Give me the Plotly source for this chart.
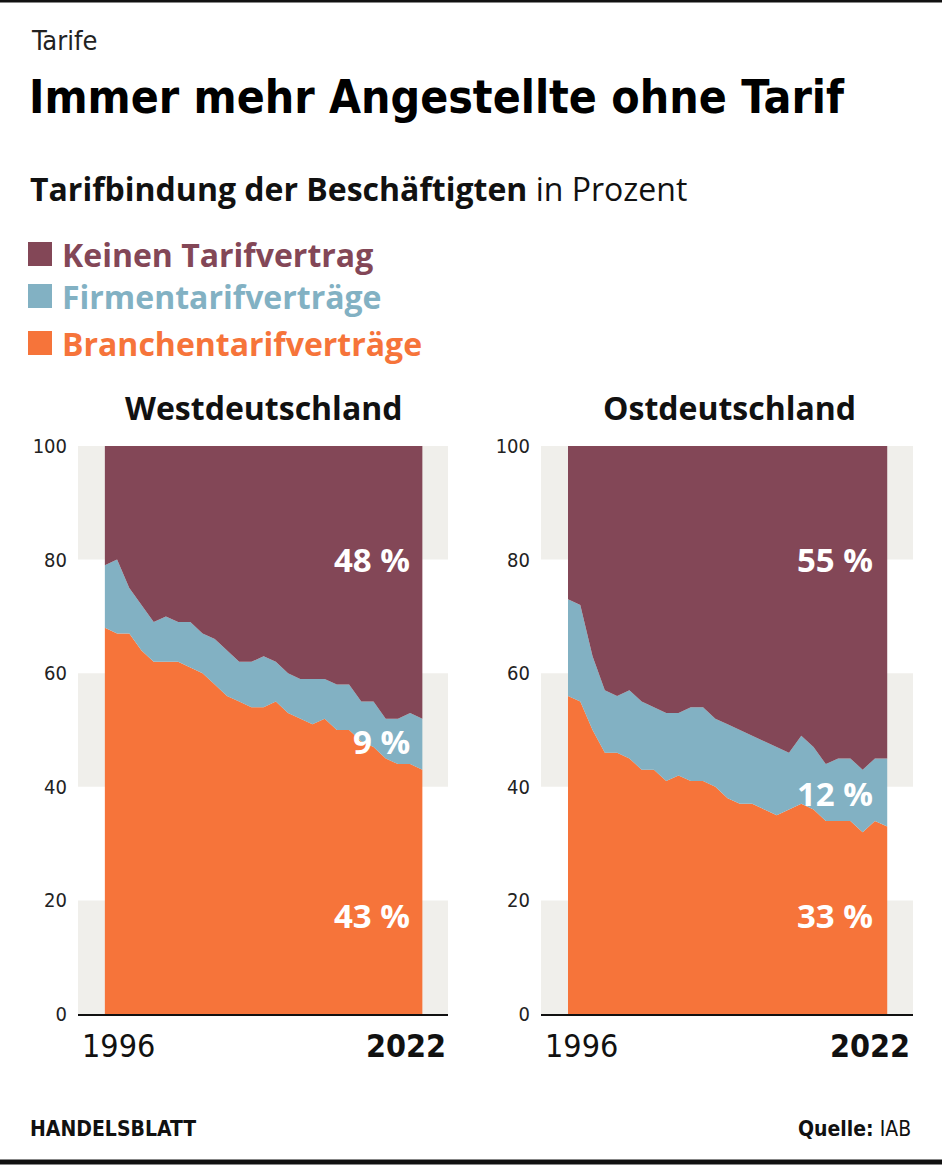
import plotly.graph_objects as go

W, H = 942, 1165

years = list(range(1996, 2023))

# Westdeutschland (Prozent)
west_branchen = [68, 67, 67, 64, 62, 62, 62, 61, 60, 58, 56, 55, 54, 54, 55, 53, 52, 51, 52, 50, 50, 48, 47, 45, 44, 44, 43]
west_firmen   = [11, 13, 8, 8, 7, 8, 7, 8, 7, 8, 8, 7, 8, 9, 7, 7, 7, 8, 7, 8, 8, 7, 8, 7, 8, 9, 9]
west_keine    = [21, 20, 25, 28, 31, 30, 31, 31, 33, 34, 36, 38, 38, 37, 38, 40, 41, 41, 41, 42, 42, 45, 45, 48, 48, 47, 48]

# Ostdeutschland (Prozent)
ost_branchen = [56, 55, 50, 46, 46, 45, 43, 43, 41, 42, 41, 41, 40, 38, 37, 37, 36, 35, 36, 37, 36, 34, 34, 34, 32, 34, 33]
ost_firmen   = [17, 17, 13, 11, 10, 12, 12, 11, 12, 11, 13, 13, 12, 13, 13, 12, 12, 12, 10, 12, 11, 10, 11, 11, 11, 11, 12]
ost_keine    = [27, 28, 37, 43, 44, 43, 45, 46, 47, 47, 46, 46, 48, 49, 50, 51, 52, 53, 54, 51, 53, 56, 55, 55, 57, 55, 55]

series_names = ["Branchentarifverträge", "Firmentarifverträge", "Keinen Tarifvertrag"]
colors = ["#f6743a", "#82b1c3", "#834757"]
end_labels_west = ["43 %", "9 %", "48 %"]
end_labels_ost = ["33 %", "12 %", "55 %"]
label_y_west = [17.4, 48, 80]
label_y_ost = [17.4, 38.9, 80]
y_ticks = [0, 20, 40, 60, 80, 100]
band_ranges = [(0, 20), (40, 60), (80, 100)]

BAND = "#f0efeb"
NARROW = "DejaVu Sans Condensed, Liberation Sans Narrow, sans-serif"
SANS = "Open Sans, Roboto, Arial, sans-serif"

def px_x(x):
    return x / W

def px_y(y):
    return 1 - y / H

fig = go.Figure()

panels = [
    ("x", "y", [west_branchen, west_firmen, west_keine], end_labels_west, label_y_west, -10),
    ("x2", "y2", [ost_branchen, ost_firmen, ost_keine], end_labels_ost, label_y_ost, -12),
]

for xa, ya, vals, labels, ly, xs in panels:
    for name, v, c in zip(series_names, vals, colors):
        fig.add_trace(go.Scatter(
            x=years, y=v, name=name, mode="lines",
            stackgroup="s" + xa, line=dict(width=0, color=c),
            fillcolor=c, xaxis=xa, yaxis=ya, hoverinfo="skip", showlegend=False,
        ))

shapes = []
annotations = []

ydom = [px_y(1014), px_y(446)]
xdom_w = [px_x(78), px_x(448)]
xdom_o = [px_x(541), px_x(913)]
xrange = [1993.8, 2024.1]

axis_common = dict(range=xrange, showgrid=False, zeroline=False, showticklabels=False, automargin=False,
                   ticks="", showline=True, linecolor="#111111", linewidth=1.5, fixedrange=True)
yaxis_common = dict(range=[0, 100], tickvals=y_ticks, showgrid=False, zeroline=False, automargin=False,
                    ticks="", showline=False, ticklabelstandoff=10,
                    tickfont=dict(family=NARROW, size=20, color="#222222"), fixedrange=True)

fig.update_layout(
    xaxis=dict(domain=xdom_w, anchor="y", **axis_common),
    yaxis=dict(domain=ydom, anchor="x", **yaxis_common),
    xaxis2=dict(domain=xdom_o, anchor="y2", **axis_common),
    yaxis2=dict(domain=ydom, anchor="x2", **yaxis_common),
)

for xa, ya in [("x", "y"), ("x2", "y2")]:
    for y0, y1 in band_ranges:
        shapes.append(dict(type="rect", xref=xa + " domain", yref=ya, x0=0, x1=1, y0=y0, y1=y1,
                           fillcolor=BAND, line=dict(width=0), layer="below"))

for xa, ya, vals, labels, ly, xs in panels:
    for lab, yv in zip(labels, ly):
        annotations.append(dict(xref=xa, yref=ya, x=years[-1], y=yv, text="<b>%s</b>" % lab, showarrow=False,
                                xanchor="right", yanchor="middle", xshift=xs,
                                font=dict(family=SANS, size=33, color="white")))

# year labels
for xl, xr in [(80, 448), (543, 912)]:
    annotations.append(dict(xref="paper", yref="paper", x=px_x(xl), y=px_y(1046), text=str(years[0]),
                            showarrow=False, xanchor="left", yanchor="middle",
                            font=dict(family=NARROW, size=32, color="#111111")))
    annotations.append(dict(xref="paper", yref="paper", x=px_x(xr), y=px_y(1046), text="<b>%d</b>" % years[-1],
                            showarrow=False, xanchor="right", yanchor="middle",
                            font=dict(family=NARROW, size=32, color="#111111")))

# panel titles
for t, cx in [("Westdeutschland", 263), ("Ostdeutschland", 729)]:
    annotations.append(dict(xref="paper", yref="paper", x=px_x(cx), y=px_y(407), text="<b>%s</b>" % t,
                            showarrow=False, xanchor="center", yanchor="middle",
                            font=dict(family=SANS, size=32, color="#111111")))

# header texts
annotations.append(dict(xref="paper", yref="paper", x=px_x(29), y=px_y(40), text="Tarife",
                        showarrow=False, xanchor="left", yanchor="middle",
                        font=dict(family=NARROW, size=27, color="#222222")))
annotations.append(dict(xref="paper", yref="paper", x=px_x(27), y=px_y(97), text="<b>Immer mehr Angestellte ohne Tarif</b>",
                        showarrow=False, xanchor="left", yanchor="middle",
                        font=dict(family=NARROW, size=46, color="#000000")))
annotations.append(dict(xref="paper", yref="paper", x=px_x(28), y=px_y(188),
                        text="<b>Tarifbindung der Beschäftigten</b> in Prozent",
                        showarrow=False, xanchor="left", yanchor="middle",
                        font=dict(family=SANS, size=32, color="#111111")))

# legend
leg_rows = [("Keinen Tarifvertrag", colors[2], 254), ("Firmentarifverträge", colors[1], 296), ("Branchentarifverträge", colors[0], 343)]
for name, c, yc in leg_rows:
    shapes.append(dict(type="rect", xref="paper", yref="paper", x0=px_x(28), x1=px_x(52),
                       y0=px_y(yc + 12), y1=px_y(yc - 12), fillcolor=c, line=dict(width=0)))
    annotations.append(dict(xref="paper", yref="paper", x=px_x(60), y=px_y(yc), text="<b>%s</b>" % name,
                            showarrow=False, xanchor="left", yanchor="middle",
                            font=dict(family=SANS, size=32, color=c)))

# footer
annotations.append(dict(xref="paper", yref="paper", x=px_x(28), y=px_y(1129), text="<b>HANDELSBLATT</b>",
                        showarrow=False, xanchor="left", yanchor="middle",
                        font=dict(family=NARROW, size=21, color="#111111")))
annotations.append(dict(xref="paper", yref="paper", x=px_x(913), y=px_y(1129), text="<b>Quelle:</b> IAB",
                        showarrow=False, xanchor="right", yanchor="middle",
                        font=dict(family=NARROW, size=21, color="#111111")))

# border lines
shapes.append(dict(type="line", xref="paper", yref="paper", x0=0, x1=1, y0=px_y(1), y1=px_y(1),
                   line=dict(color="#111111", width=3)))
shapes.append(dict(type="line", xref="paper", yref="paper", x0=0, x1=1, y0=px_y(1162), y1=px_y(1162),
                   line=dict(color="#111111", width=5)))

fig.update_layout(
    width=W, height=H, margin=dict(l=0, r=0, t=0, b=0, pad=0, autoexpand=False),
    paper_bgcolor="white", plot_bgcolor="rgba(0,0,0,0)",
    shapes=shapes, annotations=annotations, showlegend=False,
)

post = (
    "document.documentElement.style.margin='0';document.documentElement.style.padding='0';"
    "document.documentElement.style.overflow='hidden';"
    "document.body.style.margin='0';document.body.style.padding='0';document.body.style.overflow='hidden';"
)

fig.write_html("out.html", config={"displayModeBar": False, "staticPlot": True}, post_script=post)
